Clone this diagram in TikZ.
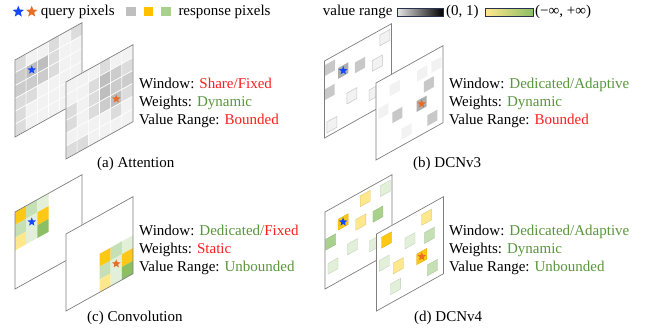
\documentclass[tikz,border=0pt]{standalone}
\usepackage{fontspec}
\setmainfont{Liberation Serif}
\usetikzlibrary{shapes.geometric}
\definecolor{g1}{HTML}{F2F2F2}
\definecolor{g2}{HTML}{DCDCDC}
\definecolor{g3}{HTML}{CCCCCC}
\definecolor{g4}{HTML}{BEBEBE}
\definecolor{planegray}{HTML}{7F7F7F}
\definecolor{cred}{RGB}{255,30,30}
\definecolor{cgreen}{RGB}{90,150,60}
\definecolor{qblue}{RGB}{20,70,255}
\definecolor{qorange}{RGB}{230,110,40}
\definecolor{gold}{RGB}{255,200,20}
\definecolor{lyel}{RGB}{255,232,140}
\definecolor{vlg}{HTML}{E2F0D9}
\definecolor{lg}{HTML}{C5E0B4}
\definecolor{mg}{HTML}{A9D18E}
\definecolor{dg}{RGB}{140,190,100}
\definecolor{pgl}{HTML}{F2F2F2}
\definecolor{pgm}{HTML}{C8C8C8}
\definecolor{pgd}{HTML}{ADADAD}
\definecolor{barborder}{RGB}{40,50,80}
\definecolor{lgsqgray}{HTML}{BFBFBF}
\definecolor{lgsqgold}{HTML}{FFC000}
\definecolor{lgsqgreen}{HTML}{A9D18E}

\newcommand{\pq}[3]{\path[#3] ({#1-0.075},{#2-0.07}) -- ({#1+0.075},{#2-0.07}) -- ({#1+0.075},{#2+0.07}) -- ({#1-0.075},{#2+0.07}) -- cycle;}
\newcommand{\grow}[2]{\foreach \cv [count=\ci from 0] in {#2} {\path[fill=g\cv, draw=white, line width=0.6pt] ({\ci/6},{1-(#1+1)/6}) -- ({(\ci+1)/6},{1-(#1+1)/6}) -- ({(\ci+1)/6},{1-(#1)/6}) -- ({\ci/6},{1-(#1)/6}) -- cycle;}}
\newcommand{\kcell}[3]{\path[fill=#3] ({(#1)/6},{1-(#2+1)/6}) -- ({(#1+1)/6},{1-(#2+1)/6}) -- ({(#1+1)/6},{1-(#2)/6}) -- ({(#1)/6},{1-(#2)/6}) -- cycle;}
\newcommand{\kernel}[2]{%
\kcell{#1}{#2}{gold}\kcell{#1+1}{#2}{lg}\kcell{#1+2}{#2}{vlg}%
\kcell{#1}{#2+1}{lg}\kcell{#1+1}{#2+1}{vlg}\kcell{#1+2}{#2+1}{gold}%
\kcell{#1}{#2+2}{lyel}\kcell{#1+1}{#2+2}{vlg}\kcell{#1+2}{#2+2}{dg}}

\tikzset{
  pl/.style 2 args={shift={(#1,#2)}, x={(67pt,37.3pt)}, y={(0pt,77pt)}},
  planefill/.style={fill=white},
  planeline/.style={draw=planegray, line width=0.7pt},
  qstar/.style={shape=star, star points=5, star point ratio=2.3, minimum size=9pt, inner sep=0pt, fill=#1},
  txt/.style={font=\fontsize{15pt}{18pt}\selectfont, inner sep=0pt, anchor=base west},
  lite/.style={fill=pgl, draw=pgm, line width=0.5pt},
  mid/.style={fill=pgm},
  dark/.style={fill=pgd},
  faint/.style={fill=pgl},
  pc/.style={fill=#1, draw=#1!85!black, line width=0.3pt},
}

\begin{document}
\begin{tikzpicture}[x=1pt,y=-1pt]
\fill[white] (0,0) rectangle (646,334);
\useasboundingbox (0,0) rectangle (646,334);

% ---------- legend ----------
\node[qstar=qblue, minimum size=12pt] (lsb) at (18.3,11.7) {};
\node[qstar=qorange, minimum size=12pt] (lso) at (31.7,11.7) {};
\node[txt] (lq) at (40.7,16) {query pixels};
\fill[lgsqgray] (126,6.7) rectangle (135.5,16.5);
\fill[lgsqgold] (143.5,6.7) rectangle (153,16.5);
\fill[lgsqgreen] (161,6.7) rectangle (170.5,16.5);
\node[txt] (lr) at (178.3,16) {response pixels};
\node[txt] (lv) at (322.7,16) {value range};
\shade[left color=black!10, right color=black] (397.3,8.3) rectangle (443.3,16);
\draw[barborder, line width=0.6pt] (397.3,8.3) rectangle (443.3,16);
\node[txt] (l01) at (446,16) {(0, 1)};
\shade[left color=lyel, right color=dg] (485.7,8.3) rectangle (533.3,16);
\draw[barborder, line width=0.6pt] (485.7,8.3) rectangle (533.3,16);
\node[txt] (linf) at (535,16) {(−∞, +∞)};

% ---------- (a) Attention ----------
\begin{scope}[pl={15}{137}]
\path[planefill] (0,0) -- (1,0) -- (1,1) -- (0,1) -- cycle;
\grow{0}{2,1,1,2,1,2}
\grow{1}{3,4,4,2,1,1}
\grow{2}{3,3,3,2,1,1}
\grow{3}{2,2,1,1,1,1}
\grow{4}{2,1,1,1,1,1}
\grow{5}{2,1,1,1,1,1}
\path[planeline] (0,0) -- (1,0) -- (1,1) -- (0,1) -- cycle;
\node[qstar=qblue] (sa1) at (0.25,0.75) {};
\end{scope}
\begin{scope}[pl={66}{159}]
\path[planefill] (0,0) -- (1,0) -- (1,1) -- (0,1) -- cycle;
\grow{0}{1,1,1,2,1,1}
\grow{1}{1,1,2,4,3,2}
\grow{2}{2,1,2,4,3,3}
\grow{3}{2,1,2,3,4,2}
\grow{4}{1,1,1,1,2,1}
\grow{5}{2,2,1,1,1,1}
\path[planeline] (0,0) -- (1,0) -- (1,1) -- (0,1) -- cycle;
\node[qstar=qorange] (sa2) at (0.75,0.4167) {};
\end{scope}
\node[txt] (a1) at (139,88.5) {Window: \textcolor{cred}{Share/Fixed}};
\node[txt] (a2) at (139,106.5) {Weights: \textcolor{cgreen}{Dynamic}};
\node[txt] (a3) at (139,124.5) {Value Range: \textcolor{cred}{Bounded}};
\node[txt] (ca) at (97,168) {(a) Attention};

% ---------- (b) DCNv3 ----------
\begin{scope}[pl={324.5}{138}]
\path[planefill] (0,0) -- (1,0) -- (1,1) -- (0,1) -- cycle;
\pq{0.90}{0.867}{lite}
\pq{0.08}{0.873}{mid}
\pq{0.28}{0.74}{dark}
\pq{0.53}{0.69}{mid}
\pq{0.79}{0.59}{lite}
\pq{0.075}{0.56}{mid}
\pq{0.41}{0.35}{lite}
\pq{0.74}{0.23}{lite}
\pq{0.11}{0.12}{lite}
\path[planeline] (0,0) -- (1,0) -- (1,1) -- (0,1) -- cycle;
\node[qstar=qblue] (sb1) at (0.28,0.74) {};
\end{scope}
\begin{scope}[pl={376}{160}]
\path[planefill] (0,0) -- (1,0) -- (1,1) -- (0,1) -- cycle;
\pq{0.28}{0.80}{faint}
\pq{0.69}{0.79}{faint}
\pq{0.90}{0.80}{faint}
\pq{0.79}{0.60}{mid}
\pq{0.11}{0.58}{faint}
\pq{0.32}{0.43}{mid}
\pq{0.68}{0.40}{dark}
\pq{0.84}{0.14}{mid}
\pq{0.455}{0.15}{faint}
\path[planeline] (0,0) -- (1,0) -- (1,1) -- (0,1) -- cycle;
\node[qstar=qorange] (sb2) at (0.68,0.40) {};
\end{scope}
\node[txt] (b1) at (449,88.5) {Window: \textcolor{cgreen}{Dedicated/Adaptive}};
\node[txt] (b2) at (449,106.5) {Weights: \textcolor{cgreen}{Dynamic}};
\node[txt] (b3) at (449,124.5) {Value Range: \textcolor{cred}{Bounded}};
\node[txt] (cb) at (413,168) {(b) DCNv3};

% ---------- (c) Convolution ----------
\begin{scope}[pl={15}{289}]
\path[planefill] (0,0) -- (1,0) -- (1,1) -- (0,1) -- cycle;
\kernel{0}{0}
\path[planeline] (0,0) -- (1,0) -- (1,1) -- (0,1) -- cycle;
\node[qstar=qblue] (sc1) at (0.25,0.75) {};
\end{scope}
\begin{scope}[pl={66}{311}]
\path[planefill] (0,0) -- (1,0) -- (1,1) -- (0,1) -- cycle;
\kernel{3}{3}
\path[planeline] (0,0) -- (1,0) -- (1,1) -- (0,1) -- cycle;
\node[qstar=qorange] (sc2) at (0.75,0.25) {};
\end{scope}
\node[txt] (c1) at (139,236) {Window: \textcolor{cgreen}{Dedicated/}\textcolor{cred}{Fixed}};
\node[txt] (c2) at (139,254) {Weights: \textcolor{cred}{Static}};
\node[txt] (c3) at (139,272) {Value Range: \textcolor{cgreen}{Unbounded}};
\node[txt] (cc) at (87,321) {(c) Convolution};

% ---------- (d) DCNv4 ----------
\begin{scope}[pl={325}{289}]
\path[planefill] (0,0) -- (1,0) -- (1,1) -- (0,1) -- cycle;
\pq{0.90}{0.87}{pc=vlg}
\pq{0.60}{0.885}{pc=lyel}
\pq{0.27}{0.74}{pc=gold}
\pq{0.535}{0.61}{pc=lyel}
\pq{0.79}{0.59}{pc=mg}
\pq{0.085}{0.57}{pc=mg}
\pq{0.41}{0.35}{pc=vlg}
\pq{0.74}{0.23}{pc=vlg}
\pq{0.12}{0.24}{pc=vlg}
\path[planeline] (0,0) -- (1,0) -- (1,1) -- (0,1) -- cycle;
\node[qstar=qblue] (sd1) at (0.27,0.74) {};
\end{scope}
\begin{scope}[pl={376.5}{311}]
\path[planefill] (0,0) -- (1,0) -- (1,1) -- (0,1) -- cycle;
\pq{0.15}{0.85}{pc=gold}
\pq{0.50}{0.67}{pc=vlg}
\pq{0.75}{0.855}{pc=lyel}
\pq{0.79}{0.60}{pc=lg}
\pq{0.115}{0.565}{pc=vlg}
\pq{0.325}{0.43}{pc=lyel}
\pq{0.675}{0.38}{pc=gold}
\pq{0.835}{0.16}{pc=lg}
\pq{0.285}{0.18}{pc=vlg}
\path[planeline] (0,0) -- (1,0) -- (1,1) -- (0,1) -- cycle;
\node[qstar=qorange] (sd2) at (0.675,0.38) {};
\end{scope}
\node[txt] (d1) at (449,236) {Window: \textcolor{cgreen}{Dedicated/Adaptive}};
\node[txt] (d2) at (449,254) {Weights: \textcolor{cgreen}{Dynamic}};
\node[txt] (d3) at (449,272) {Value Range: \textcolor{cgreen}{Unbounded}};
\node[txt] (cd) at (414,321) {(d) DCNv4};
\end{tikzpicture}
\end{document}
